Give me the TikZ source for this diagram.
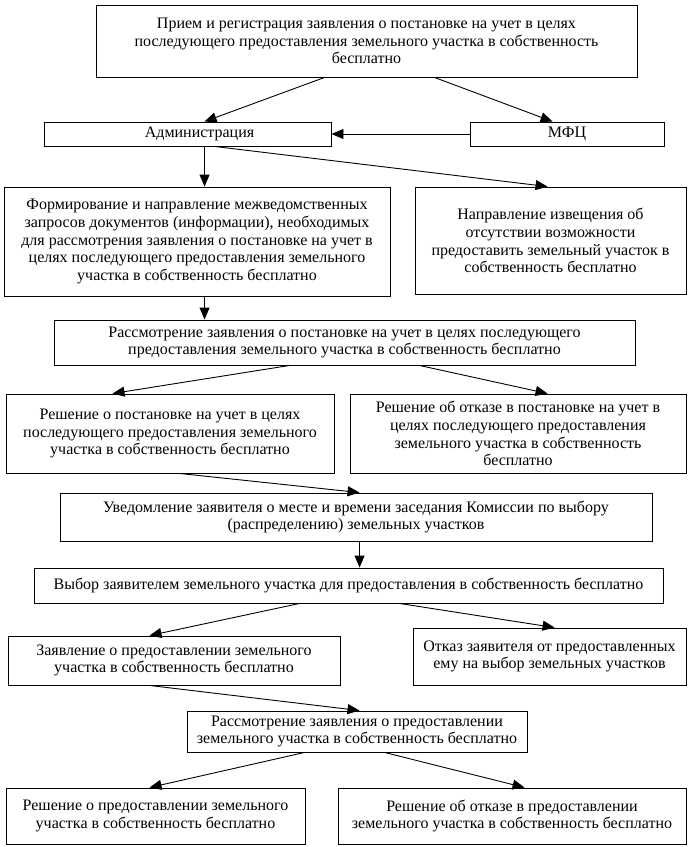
\documentclass[tikz,border=0pt]{standalone}
\usepackage{fontspec}
\setmainfont{Liberation Serif}
\usetikzlibrary{arrows.meta}
\begin{document}
\begin{tikzpicture}[x=1pt,y=-1pt,
  box/.style={draw, line width=0.9pt, inner sep=0pt, align=center,
    font=\fontsize{16}{17.8}\selectfont},
  arr/.style={draw, line width=0.9pt, -{Triangle[length=12pt,width=10pt]}}]
\useasboundingbox (0,0) rectangle (688,847);
\node[box, minimum width=541pt, minimum height=72pt] (top) at (366.5,41)
  {Прием и регистрация заявления о постановке на учет в целях\\последующего предоставления земельного участка в собственность\\бесплатно};
\node[box, minimum width=287pt, minimum height=24pt] (adm) at (187.5,134) {\hspace*{24pt}Администрация};
\node[box, minimum width=194pt, minimum height=24pt] (mfc) at (567,134) {МФЦ};
\node[box, minimum width=386pt, minimum height=109pt] (form) at (197,241.5)
  {Формирование и направление межведомственных\\запросов документов (информации), необходимых\\для рассмотрения заявления о постановке на учет в\\целях последующего предоставления земельного\\участка в собственность бесплатно};
\node[box, minimum width=271pt, minimum height=107pt] (izv) at (550.5,240.5)
  {Направление извещения об\\отсутствии возможности\\предоставить земельный участок в\\собственность бесплатно};
\node[box, minimum width=581pt, minimum height=45pt] (rass1) at (344.5,342.5)
  {Рассмотрение заявления о постановке на учет в целях последующего\\предоставления земельного участка в собственность бесплатно};
\node[box, minimum width=328pt, minimum height=79pt] (resh1) at (170,433.5)
  {Решение о постановке на учет в целях\\последующего предоставления земельного\\участка в собственность бесплатно};
\node[box, minimum width=336pt, minimum height=79pt] (otk1) at (518,433.5)
  {Решение об отказе в постановке на учет в\\целях последующего предоставления\\земельного участка в собственность\\бесплатно};
\node[box, minimum width=592pt, minimum height=48pt] (uved) at (356,517)
  {Уведомление заявителя о месте и времени заседания Комиссии по выбору\\(распределению) земельных участков};
\node[box, minimum width=629pt, minimum height=35pt] (vyb) at (348.5,585.5)
  {Выбор заявителем земельного участка для предоставления в собственность бесплатно};
\node[box, minimum width=332pt, minimum height=49pt] (zayav) at (174,660.5)
  {Заявление о предоставлении земельного\\участка в собственность бесплатно};
\node[box, minimum width=273pt, minimum height=57pt] (otkaz) at (549.5,656.5)
  {Отказ заявителя от предоставленных\\ему на выбор земельных участков};
\node[box, minimum width=340pt, minimum height=41pt] (rass2) at (357,731.5)
  {Рассмотрение заявления о предоставлении\\земельного участка в собственность бесплатно};
\node[box, minimum width=299pt, minimum height=56pt] (rp) at (155.5,816)
  {Решение о предоставлении земельного\\участка в собственность бесплатно};
\node[box, minimum width=348pt, minimum height=56pt] (ro) at (512,816)
  {Решение об отказе в предоставлении\\земельного участка в собственность бесплатно};
% connectors
\draw[arr] ([xshift=229pt]top.south west) -- ([xshift=161pt]adm.north west);
\draw[arr] ([xshift=339pt]top.south west) -- ([xshift=83pt]mfc.north west);
\draw[arr] (mfc.west) -- (adm.east);
\draw[arr] ([xshift=161pt]adm.south west) -- ([xshift=201pt]form.north west);
\draw[arr] ([xshift=171pt]adm.south west) -- ([xshift=133pt]izv.north west);
\draw[arr] ([xshift=201pt]form.south west) -- ([xshift=151pt]rass1.north west);
\draw[arr] ([xshift=236pt]rass1.south west) -- ([xshift=107pt]resh1.north west);
\draw[arr] ([xshift=366pt]rass1.south west) -- ([xshift=198pt]otk1.north west);
\draw[arr] ([xshift=174pt]resh1.south west) -- ([xshift=300pt]uved.north west);
\draw[arr] ([xshift=300pt]uved.south west) -- ([xshift=326pt]vyb.north west);
\draw[arr] ([xshift=266pt]vyb.south west) -- ([xshift=142pt]zayav.north west);
\draw[arr] ([xshift=366pt]vyb.south west) -- ([xshift=142pt]otkaz.north west);
\draw[arr] ([xshift=142pt]zayav.south west) -- ([xshift=173pt]rass2.north west);
\draw[arr] ([xshift=118pt]rass2.south west) -- ([xshift=144pt]rp.north west);
\draw[arr] ([xshift=198pt]rass2.south west) -- ([xshift=187pt]ro.north west);
\end{tikzpicture}
\end{document}
